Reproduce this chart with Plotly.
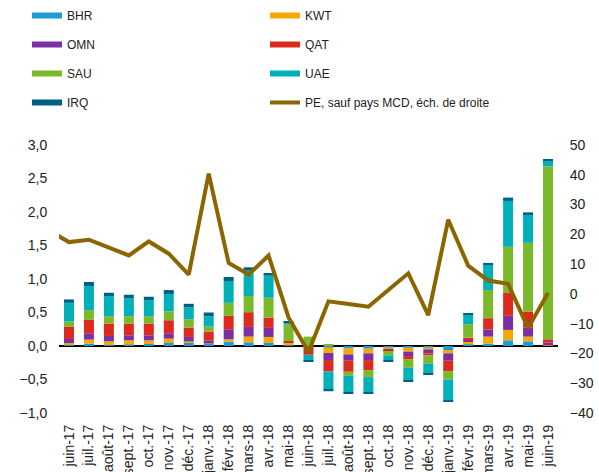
import plotly.graph_objects as go

months = ["mai-17", "juin-17", "juil.-17", "août-17", "sept.-17", "oct.-17", "nov.-17", "déc.-17",
          "janv.-18", "févr.-18", "mars-18", "avr.-18", "mai-18", "juin-18", "juil.-18", "août-18",
          "sept.-18", "oct.-18", "nov.-18", "déc.-18", "janv.-19", "févr.-19", "mars-19", "avr.-19",
          "mai-19", "juin-19"]

BHR = [None, 0.015, 0.035, 0.015, 0.02, 0.03, 0.045, 0.05, 0.035, 0.065, 0.055, 0.045, 0.015, -0.01,
       -0.02, -0.035, -0.04, -0.02, -0.025, -0.02, -0.06, 0.025, 0.035, 0.085, 0.07, 0.005]
KWT = [None, 0.03, 0.06, 0.055, 0.065, 0.055, 0.065, 0.02, 0.005, 0.035, 0.085, 0.09, 0.03, 0.0,
       -0.085, -0.09, -0.07, -0.03, -0.06, -0.03, -0.05, 0.035, 0.105, 0.155, 0.07, 0.005]
OMN = [None, 0.06, 0.095, 0.08, 0.075, 0.075, 0.08, 0.065, 0.045, 0.15, 0.145, 0.135, 0.01, 0.0,
       -0.105, -0.095, -0.1, -0.02, -0.065, -0.06, -0.11, 0.025, 0.105, 0.21, 0.135, 0.045]
QAT = [None, 0.18, 0.2, 0.185, 0.175, 0.175, 0.195, 0.14, 0.13, 0.2, 0.22, 0.155, 0.02, -0.12,
       -0.17, -0.165, -0.15, -0.005, -0.045, -0.03, -0.155, 0.04, 0.17, 0.35, 0.24, 0.045]
SAU = [None, 0.08, 0.145, 0.11, 0.11, 0.11, 0.13, 0.125, 0.075, 0.195, 0.24, 0.295, 0.245, 0.14,
       0.02, -0.06, -0.105, -0.065, -0.13, -0.125, -0.125, 0.2, 0.42, 0.68, 1.025, 2.58]
UAE = [None, 0.28, 0.36, 0.3, 0.27, 0.24, 0.26, 0.175, 0.155, 0.325, 0.38, 0.33, 0.035, -0.09,
       -0.27, -0.25, -0.23, -0.07, -0.185, -0.15, -0.31, 0.14, 0.38, 0.685, 0.43, 0.09]
IRQ = [None, 0.05, 0.06, 0.05, 0.05, 0.05, 0.06, 0.055, 0.055, 0.06, 0.05, 0.04, 0.015, -0.015,
       -0.025, -0.02, -0.02, -0.015, -0.02, -0.015, -0.02, 0.015, 0.025, 0.05, 0.025, 0.01]
PE = [21.2, 17.4, 18.2, 15.7, 12.9, 17.6, 13.5, 6.5, 40.4, 10.4, 6.5, 12.9, -7.9, -19.5,
      -2.5, -3.4, -4.3, 1.3, 6.9, -7.1, 24.9, 9.5, 4.5, 3.4, -11.5, 0.3]

left_ticks = [-1.0, -0.5, 0.0, 0.5, 1.0, 1.5, 2.0, 2.5, 3.0]
right_ticks = [-40, -30, -20, -10, 0, 10, 20, 30, 40, 50]

series = [
    ("BHR", BHR, "#1E9BD7", "legend"),
    ("KWT", KWT, "#F5A800", "legend2"),
    ("OMN", OMN, "#7B2FA5", "legend"),
    ("QAT", QAT, "#DC2A1E", "legend2"),
    ("SAU", SAU, "#7AB929", "legend"),
    ("UAE", UAE, "#00B0B9", "legend2"),
    ("IRQ", IRQ, "#005F87", "legend"),
]
line_color = "#8B6500"
font_family = "Liberation Sans, Arial, sans-serif"

fig = go.Figure()
for name, vals, color, _ in series:
    fig.add_trace(go.Bar(x=months, y=vals, name=name, marker=dict(color=color, line=dict(width=0)),
                         showlegend=False, yaxis="y"))

fig.add_trace(go.Scatter(x=months, y=PE, mode="lines", name="PE, sauf pays MCD, éch. de droite",
                         line=dict(color=line_color, width=4), yaxis="y2", showlegend=False))

# legend entries (line-style swatches as in the reference)
for name, vals, color, leg in series:
    fig.add_trace(go.Scatter(x=[None], y=[None], mode="lines", name=name, legend=leg,
                             legendgroup=name, line=dict(color=color, width=6), yaxis="y"))
fig.add_trace(go.Scatter(x=[None], y=[None], mode="lines", name="PE, sauf pays MCD, éch. de droite",
                         legend="legend2", legendgroup="PE",
                         line=dict(color=line_color, width=4), yaxis="y"))

fig.update_layout(
    width=599, height=472,
    margin=dict(l=59, r=41, t=145, b=59, autoexpand=False),
    paper_bgcolor="white", plot_bgcolor="white",
    barmode="relative", bargap=0.5,
    separators=", ",
    font=dict(family=font_family, size=13, color="#222222"),
    xaxis=dict(type="category", range=[0.5, 25.5], tickangle=-90, showgrid=False,
               showline=False, zeroline=False, ticks="outside", ticklen=5, tickcolor="rgba(0,0,0,0)",
               tickfont=dict(size=14)),
    yaxis=dict(range=[-1, 3], tickvals=left_ticks, tickformat=".1f", showgrid=False,
               zeroline=True, zerolinecolor="black", zerolinewidth=1.5, showline=False,
               ticks="outside", ticklen=8, tickcolor="rgba(0,0,0,0)", tickfont=dict(size=14)),
    yaxis2=dict(range=[-40, 50], tickvals=right_ticks, overlaying="y", side="right",
                showgrid=False, zeroline=False, showline=False,
                ticks="outside", ticklen=8, tickcolor="rgba(0,0,0,0)", tickfont=dict(size=14)),
    legend=dict(xref="container", yref="container", x=27 / 599, xanchor="left",
                y=1 - 1 / 472, yanchor="top", orientation="v",
                tracegroupgap=10, font=dict(size=12, color="#222222"), bgcolor="rgba(0,0,0,0)"),
    legend2=dict(xref="container", yref="container", x=265 / 599, xanchor="left",
                 y=1 - 1 / 472, yanchor="top", orientation="v",
                 tracegroupgap=10, font=dict(size=12, color="#222222"), bgcolor="rgba(0,0,0,0)"),
)

fig.write_html("out.html", config={"displayModeBar": False},
               post_script="document.body.style.margin='0';document.body.style.padding='0';")
